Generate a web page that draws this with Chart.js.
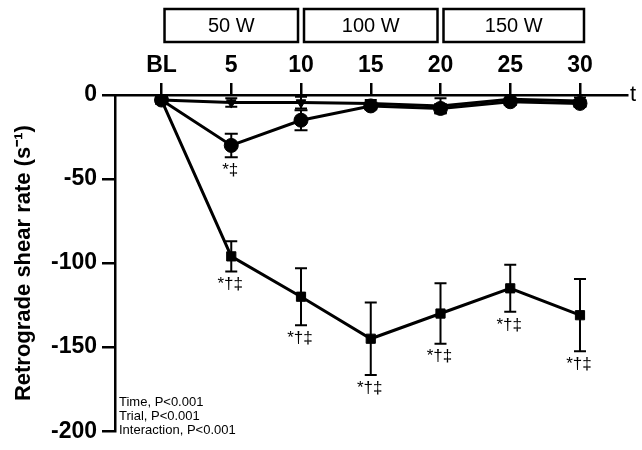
<!DOCTYPE html>
<html>
<head>
<meta charset="utf-8">
<script src="https://cdn.jsdelivr.net/npm/chart.js@4"></script>
<style>
  html, body { margin: 0; padding: 0; background: #fff; }
  #wrap { width: 642px; height: 450px; }
</style>
</head>
<body>
<div id="wrap"><canvas id="shearChart" width="642" height="450"></canvas></div>
<script>
const timeLabels = ['BL', '5', '10', '15', '20', '25', '30'];
const timeIndex = [0, 1, 2, 3, 4, 5, 6];

const squareMean = [-3, -96, -120, -145, -130, -115, -131];
const squareErr = [2, 9, 17, 21.5, 18, 14, 21.5];
const squareMarks = ['', '*†‡', '*†‡', '*†‡', '*†‡', '*†‡', '*†‡'];

const circleMean = [-3, -30, -15, -6.5, -8, -4, -5];
const circleErr = [2, 7, 6, 2, 2.5, 2, 2];
const circleMarks = ['', '*‡', '', '', '', '', ''];

const triMean = [-3, -4.5, -4.5, -5, -6.5, -2.5, -3.5];
const triErr = [2, 2.5, 3.5, 2, 4.5, 2, 2];

const stageNames = ['50 W', '100 W', '150 W'];
const stageStart = [0, 2, 4];
const stageEnd = [2, 4, 6];

const statLines = ['Time, P<0.001', 'Trial, P<0.001', 'Interaction, P<0.001'];

const FONT = '"Liberation Sans", Arial, Helvetica, sans-serif';

function points(means) {
  return timeIndex.map((x, i) => ({ x: x, y: means[i] }));
}

// error bars + significance marks under the markers
const errorBars = {
  id: 'errorBars',
  beforeDatasetsDraw(chart) {
    const { ctx, scales: { x, y } } = chart;
    const sets = [
      { mean: squareMean, err: squareErr, cap: 6 },
      { mean: circleMean, err: circleErr, cap: 6.5 },
      { mean: triMean, err: triErr, cap: 6 }
    ];
    ctx.save();
    ctx.strokeStyle = '#000';
    ctx.lineWidth = 2;
    sets.forEach(s => {
      s.mean.forEach((m, i) => {
        const px = x.getPixelForValue(timeIndex[i]);
        const top = y.getPixelForValue(m + s.err[i]);
        const bot = y.getPixelForValue(m - s.err[i]);
        ctx.beginPath();
        ctx.moveTo(px, top);
        ctx.lineTo(px, bot);
        ctx.moveTo(px - s.cap, top);
        ctx.lineTo(px + s.cap, top);
        ctx.moveTo(px - s.cap, bot);
        ctx.lineTo(px + s.cap, bot);
        ctx.stroke();
      });
    });
    ctx.restore();
  },
  afterDraw(chart) {
    const { ctx, scales: { x, y }, chartArea } = chart;
    ctx.save();
    ctx.fillStyle = '#000';
    ctx.textAlign = 'center';
    ctx.textBaseline = 'middle';
    ctx.font = '17px ' + FONT;
    const marks = [
      { mean: squareMean, err: squareErr, text: squareMarks },
      { mean: circleMean, err: circleErr, text: circleMarks }
    ];
    marks.forEach(s => {
      s.text.forEach((t, i) => {
        if (!t) return;
        const px = x.getPixelForValue(timeIndex[i]);
        const bot = y.getPixelForValue(s.mean[i] - s.err[i]);
        ctx.fillText(t, px - 1, bot + 13);
      });
    });

    // stage boxes above the axis
    ctx.lineWidth = 2.5;
    ctx.strokeStyle = '#000';
    ctx.font = '20px ' + FONT;
    stageNames.forEach((name, i) => {
      const left = x.getPixelForValue(stageStart[i]) + 3;
      const right = x.getPixelForValue(stageEnd[i]) - 3 + (i === stageNames.length - 1 ? 7 : 0);
      ctx.strokeRect(left, 9, right - left, 33);
      ctx.fillText(name, (left + right) / 2, 26);
    });

    // clipped axis label at right edge
    ctx.textAlign = 'left';
    ctx.font = '22px ' + FONT;
    ctx.fillText('t', chartArea.right + 3, chartArea.top);

    // statistics text
    ctx.font = '13px ' + FONT;
    statLines.forEach((line, i) => {
      ctx.fillText(line, chartArea.left + 4, 402 + i * 14);
    });
    ctx.restore();
  }
};

new Chart(document.getElementById('shearChart'), {
  type: 'line',
  data: {
    datasets: [
      {
        label: 'Square',
        data: points(squareMean),
        borderColor: '#000',
        backgroundColor: '#000',
        borderWidth: 3,
        pointStyle: 'rect',
        pointRadius: 6.5,
        pointBorderWidth: 1
      },
      {
        label: 'Circle',
        data: points(circleMean),
        borderColor: '#000',
        backgroundColor: '#000',
        borderWidth: 3,
        pointStyle: 'circle',
        pointRadius: 7,
        pointBorderWidth: 1
      },
      {
        label: 'Triangle',
        data: points(triMean),
        borderColor: '#000',
        backgroundColor: '#000',
        borderWidth: 3,
        pointStyle: 'triangle',
        pointRotation: 180,
        pointRadius: 5.5,
        pointBorderWidth: 1
      }
    ]
  },
  options: {
    responsive: false,
    animation: false,
    layout: {
      padding: { top: 51, right: 15, bottom: 15, left: 0 }
    },
    plugins: {
      legend: { display: false },
      tooltip: { enabled: false }
    },
    scales: {
      x: {
        type: 'linear',
        position: 'top',
        min: -0.667,
        max: 6.674,
        afterBuildTicks: (scale) => {
          scale.ticks = timeIndex.map(v => ({ value: v }));
        },
        afterFit: (scale) => { scale.height = 44; },
        grid: {
          drawOnChartArea: false,
          drawTicks: true,
          tickLength: 12,
          color: '#000',
          lineWidth: 2.5
        },
        border: { display: true, color: '#000', width: 2.5 },
        ticks: {
          color: '#000',
          padding: 4,
          maxRotation: 0,
          font: { family: FONT, size: 23, weight: 'bold' },
          callback: (v) => timeLabels[v]
        }
      },
      y: {
        min: -200,
        max: 0,
        afterFit: (scale) => { scale.width = 115; },
        grid: {
          drawOnChartArea: false,
          drawTicks: true,
          tickLength: 13,
          color: '#000',
          lineWidth: 2.5
        },
        border: { display: true, color: '#000', width: 2.5 },
        ticks: {
          stepSize: 50,
          color: '#000',
          padding: 5,
          font: { family: FONT, size: 23, weight: 'bold' }
        },
        title: {
          display: true,
          text: 'Retrograde shear rate (s⁻¹)',
          color: '#000',
          padding: { top: 11, bottom: 0 },
          font: { family: FONT, size: 22, weight: 'bold' }
        }
      }
    }
  },
  plugins: [errorBars]
});
</script>
</body>
</html>
